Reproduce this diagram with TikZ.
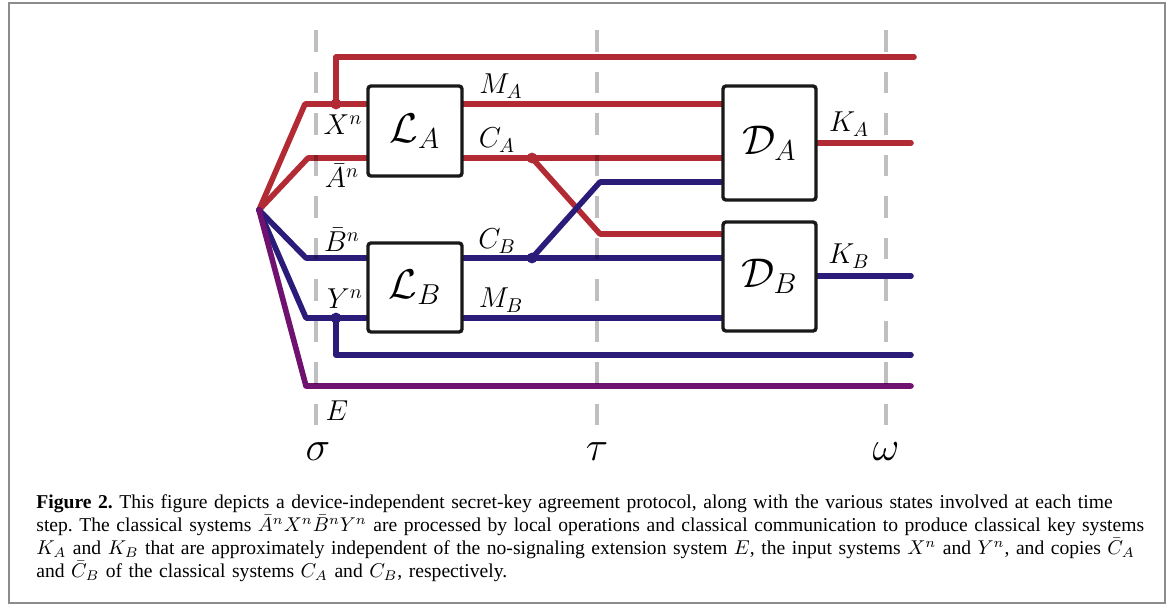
\documentclass[tikz,border=0pt]{standalone}
\usepackage{fontspec}
\setmainfont{Liberation Serif}
\usetikzlibrary{positioning, shadows, backgrounds}
\definecolor{wireA}{RGB}{178,42,52}
\definecolor{wireB}{RGB}{43,28,122}
\definecolor{wireE}{RGB}{112,18,112}
\definecolor{framegray}{RGB}{140,140,140}

\begin{document}
\begin{tikzpicture}[x=0.5pt, y=-0.5pt,
    wire/.style={line width=2.8pt, line cap=round, line join=round},
    wa/.style={wire, draw=wireA},
    wb/.style={wire, draw=wireB},
    we/.style={wire, draw=wireE},
    tick/.style={line width=1.8pt, black, opacity=0.25, dash pattern=on 10.75pt off 10pt},
    gate/.style={draw=black!90, line width=1.7pt, fill=white, rounded corners=1.5pt, minimum width=47pt, inner sep=0pt, font=\fontsize{22}{24}\selectfont, drop shadow={shadow xshift=0.6pt, shadow yshift=-0.6pt, opacity=0.4}},
    lbl/.style={font=\fontsize{14}{16}\selectfont, inner sep=0pt},
    greek/.style={font=\fontsize{20}{22}\selectfont, inner sep=0pt}
]
    \useasboundingbox (0,0) rectangle (1171,606);
    % Frame
    \draw[framegray, line width=1pt] (9,3) rectangle (1165,603);

    % Local operations and decoders
    \node[gate, minimum height=45pt] (LA) at (415,131) {$\mathcal{L}_A$};
    \node[gate, minimum height=44.5pt] (LB) at (415,287.5) {$\mathcal{L}_B$};
    \node[gate, minimum width=46.5pt, minimum height=57pt] (DA) at (769.5,143) {$\mathcal{D}_A$};
    \node[gate, minimum width=46.5pt, minimum height=54.5pt] (DB) at (769.5,276.5) {$\mathcal{D}_B$};

    % Wire corners
    \coordinate (src) at (259,210);
    \coordinate (xn) at (305,104);
    \coordinate (an) at (308,158);
    \coordinate (bn) at (306,258);
    \coordinate (yn) at (306,318);
    \coordinate (en) at (306,386);
    \coordinate (xdot) at (336,104);
    \coordinate (ydot) at (336,318);
    \coordinate (cadot) at (532,158);
    \coordinate (cbdot) at (532,258);
    \coordinate (caend) at (600,234);
    \coordinate (cbend) at (600,182);
    \coordinate (topend) at (914,57);
    \coordinate (yend) at (911,355);
    \coordinate (eend) at (911,386);
    \coordinate (kaend) at (911,143);
    \coordinate (kbend) at (911,276);

    \begin{scope}[on background layer]
    % Alice's wires
    \draw[wa] (src) -- (xn) -- (xn -| LA.west);
    \draw[wa] (src) -- (an) -- (an -| LA.west);
    \draw[wa] (xdot) |- (topend);
    \draw[wa] (LA.east |- xn) -- (DA.west |- xn);
    \draw[wa] (LA.east |- an) -- (DA.west |- an);
    \draw[wa] (cadot) -- (caend) -- (DB.west |- caend);
    \draw[wa] (DA.east |- kaend) -- (kaend);
    % Bob's wires
    \draw[wb] (src) -- (bn) -- (bn -| LB.west);
    \draw[wb] (src) -- (yn) -- (yn -| LB.west);
    \draw[wb] (ydot) |- (yend);
    \draw[wb] (LB.east |- bn) -- (DB.west |- bn);
    \draw[wb] (LB.east |- yn) -- (DB.west |- yn);
    \draw[wb] (cbdot) -- (cbend) -- (DA.west |- cbend);
    \draw[wb] (DB.east |- kbend) -- (kbend);
    % Eve
    \draw[we] (src) -- (en) -- (eend);
    % Time steps
    \foreach \x in {316, 597, 886}
        \draw[tick] (\x,30) -- (\x,425);
    \end{scope}

    % Copy points
    \fill[wireA] (xdot) circle (2.7pt);
    \fill[wireA] (cadot) circle (2.7pt);
    \fill[wireB] (ydot) circle (2.7pt);
    \fill[wireB] (cbdot) circle (2.7pt);

    % System labels
    \node[lbl] (lxn) at (343,125) {$X^n$};
    \node[lbl] (lan) at (342,176) {$\bar{A}^n$};
    \node[lbl] (lbn) at (342,240) {$\bar{B}^n$};
    \node[lbl] (lyn) at (345,299) {$Y^n$};
    \node[lbl] (le) at (337,411) {$E$};
    \node[lbl] (lma) at (501,86) {$M_A$};
    \node[lbl] (lca) at (497,140) {$C_A$};
    \node[lbl] (lcb) at (497,241) {$C_B$};
    \node[lbl] (lmb) at (501,300) {$M_B$};
    \node[lbl] (lka) at (849,124) {$K_A$};
    \node[lbl] (lkb) at (849,256) {$K_B$};
    \node[greek] (sig) at (318,452) {$\sigma$};
    \node[greek] (tau) at (597,452) {$\tau$};
    \node[greek] (om) at (886,452) {$\omega$};

    % Caption
    \node[font=\fontsize{9.8}{11.6}\selectfont, text width=560pt, align=left, anchor=north west, inner sep=0pt] (cap) at (36,494)
    {\frenchspacing\hyphenpenalty=10000\exhyphenpenalty=10000
    \textbf{Figure 2.} This figure depicts a device-independent secret-key agreement protocol, along with the various states involved at each time\\
    step. The classical systems $\bar{A}^nX^n\bar{B}^nY^n$ are processed by local operations and classical communication to produce classical key systems\\
    $K_A$ and $K_B$ that are approximately independent of the no-signaling extension system $E$, the input systems $X^n$ and $Y^n$, and copies $\bar{C}_A$\\
    and $\bar{C}_B$ of the classical systems $C_A$ and $C_B$, respectively.};
\end{tikzpicture}
\end{document}
